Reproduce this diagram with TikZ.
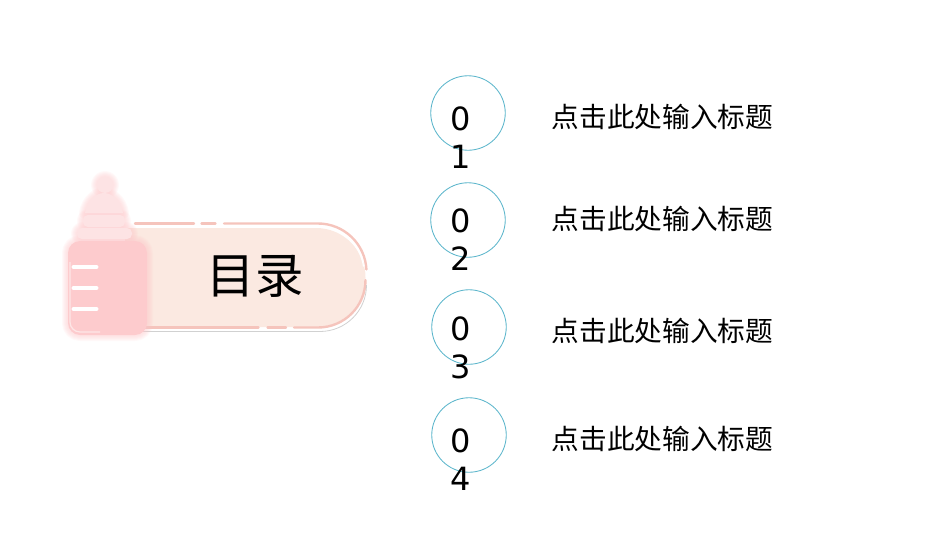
\documentclass[tikz,border=0pt]{standalone}
\usepackage{fontspec}
\setmainfont{DejaVu Sans}
\newfontfamily\cjk{Noto Sans CJK SC}
\definecolor{pillfill}{HTML}{FBE9E1}
\definecolor{pillline}{HTML}{F5C4BC}
\definecolor{bodypink}{HTML}{FDCBCD}
\definecolor{bodyedge}{HTML}{FBD5D5}
\definecolor{capa}{HTML}{FDE3E4}
\definecolor{ringc}{HTML}{5BB5CB}
\tikzset{
  ring/.style={circle,draw=ringc,line width=0.85pt,minimum size=74.5pt,inner sep=0pt},
  digit/.style={font=\fontsize{32}{32}\selectfont,inner sep=0pt,text=black},
  title/.style={font=\cjk\fontsize{27.7}{27.7}\selectfont,anchor=west,inner sep=0pt,text=black},
  heading/.style={font=\cjk\fontsize{48.5}{48.5}\selectfont,inner sep=0pt,text=black},
  tick/.style={draw=white,line width=4pt,line cap=round},
  edgeline/.style={draw=pillline,line width=2.4pt,line cap=round},
  glow/.style={draw=#1,opacity=0.12,line join=round},
}
\begin{document}
\begin{tikzpicture}[x=1pt,y=-1pt]
\useasboundingbox (0,0) rectangle (950,535);
% pill
\fill[pillfill] (125,228) -- (316,228) arc[start angle=-90,end angle=90,radius=49.5] -- (125,327) -- cycle;
\draw[edgeline] (135,223.5) -- (194,223.5);
\draw[edgeline] (201.5,223.5) -- (215.5,223.5);
\draw[edgeline] (224,223.5) -- (318,223.5) arc[start angle=-90,end angle=-3,radius=48.5];
\draw[edgeline] (365.5,280) arc[start angle=0,end angle=90,radius=47.5] -- (294,327.5);
\draw[edgeline] (267.5,327.5) -- (286,327.5);
\draw[edgeline] (140,327.5) -- (258.5,327.5);
\draw[draw=white,line width=1.2pt] (224,227) -- (318,227) arc[start angle=-90,end angle=-8,radius=46];
\draw[draw=black!18,line width=0.8pt] (366.5,285) arc[start angle=0,end angle=90,radius=46.5] -- (140,331.5);
% bottle glow
\foreach \w in {12,10,8,6,4,2}{
  \draw[glow=bodypink,line width=\w pt] (105,185) circle[radius=8];
  \draw[glow=bodypink,line width=\w pt] (85,213) .. controls (87,200) and (97,193) .. (104,193) .. controls (111,193) and (121,200) .. (123,213) -- cycle;
  \draw[glow=bodypink,line width=\w pt,rounded corners=5pt] (83,215) rectangle (125,227);
  \draw[glow=bodypink,line width=\w pt,rounded corners=5pt] (77,228) rectangle (132,239);
  \draw[glow=bodypink,line width=\w pt,rounded corners=12pt] (68,241) rectangle (147,335);
}
% bottle
\fill[capa] (105,185) circle[radius=8];
\fill[capa] (85,213) .. controls (87,200) and (97,193) .. (104,193) .. controls (111,193) and (121,200) .. (123,213) -- cycle;
\fill[capa,rounded corners=5pt] (83,215) rectangle (125,227);
\fill[capa,rounded corners=5pt] (77,228) rectangle (132,239);
\fill[bodypink,rounded corners=12pt] (68,241) rectangle (147,335);
\draw[draw=bodyedge!60!white,line width=1.2pt,rounded corners=10pt] (70,262) -- (70,332) -- (100,332);
\draw[tick] (73.5,267) -- (96.5,267);
\draw[tick] (73.5,288) -- (96.5,288);
\draw[tick] (73.5,309) -- (96.5,309);
\node[heading] (head) at (255,276) {目录};
% rings
\node[ring] (r1) at (468,113) {};
\node[ring] (r2) at (468,220) {};
\node[ring] (r3) at (469,327) {};
\node[ring] (r4) at (469,435) {};
\node[digit] (a1) at (460.7,119) {0};
\node[digit] (b1) at (460.7,157) {1};
\node[digit] (a2) at (460.7,221) {0};
\node[digit] (b2) at (460.7,259) {2};
\node[digit] (a3) at (460.7,329) {0};
\node[digit] (b3) at (460.7,367) {3};
\node[digit] (a4) at (460.7,441) {0};
\node[digit] (b4) at (460.7,479) {4};
\node[title] (t1) at (551.5,116.5) {点击此处输入标题};
\node[title] (t2) at (551.5,218.5) {点击此处输入标题};
\node[title] (t3) at (551.5,330.5) {点击此处输入标题};
\node[title] (t4) at (551.5,438.5) {点击此处输入标题};
\end{tikzpicture}
\end{document}
